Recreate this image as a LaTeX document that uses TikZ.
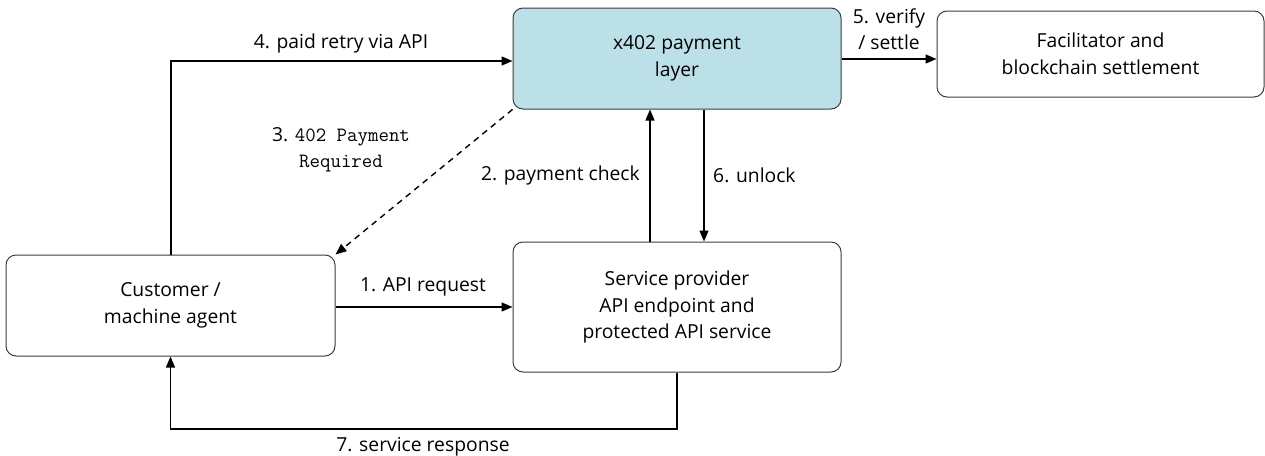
\documentclass[tikz,border=0pt]{standalone}
\usepackage{fontspec}
\setmainfont{Open Sans}
\usetikzlibrary{arrows.meta}
\definecolor{layerblue}{RGB}{188,224,232}
\definecolor{edgegrey}{RGB}{60,60,60}
\newcommand\lblfont{\fontsize{19.3}{26.5}\selectfont}
\newcommand\monofont{\fontsize{20.3}{26.5}\selectfont\ttfamily}
\begin{document}
\begin{tikzpicture}[x=1pt,y=-1pt,
  box/.style={draw=edgegrey, line width=1pt, rounded corners=10pt, align=center, inner sep=0pt, font=\lblfont},
  conn/.style={line width=1.4pt, -{Triangle[length=11pt,width=9pt]}},
  lab/.style={align=center, font=\lblfont, inner sep=0pt}]
\useasboundingbox (0,0) rectangle (1265,455);
\node[box, minimum width=329pt, minimum height=101pt] (cust) at (170.5,305.5) {Customer /\\machine agent};
\node[box, minimum width=328pt, minimum height=130pt] (serv) at (677,307) {Service provider\\API endpoint and\\protected API service};
\node[box, fill=layerblue, minimum width=328pt, minimum height=101pt] (x402) at (677,58.5) {x402 payment\\layer};
\node[box, minimum width=327pt, minimum height=86pt] (fac) at (1100.5,54) {Facilitator and\\blockchain settlement};
\coordinate (c4) at (171,61);
\coordinate (c7) at (677,429);
% 1
\draw[conn] (serv.west -| cust.east) -- (serv.west);
\node[lab] (l1) at (423,287) {1. API request};
% 2
\draw[conn] (serv.north -| 650,0) -- (x402.south -| 650,0);
\node[lab, anchor=east] (l2) at (640,175) {2. payment check};
% 6
\draw[conn] (x402.south -| 704,0) -- (serv.north -| 704,0);
\node[lab, anchor=west] (l6) at (713,175) {6. unlock};
% 3
\draw[conn, dash pattern=on 6pt off 5pt] (x402.south west) -- (cust.north east);
\node[lab] (l3) at (341,150) {3. {\monofont 402 Payment}\\{\monofont Required}};
% 4
\draw[conn] (cust.north -| c4) -- (c4) -- (c4 -| x402.west);
\node[lab] (l4) at (341,43) {4. paid retry via API};
% 5
\coordinate (s5) at (0,59);
\draw[conn] (x402.east |- s5) -- (fac.west |- s5);
\node[lab] (l5) at (889,29) {5. verify\\/ settle};
% 7
\draw[conn] (serv.south) -- (c7) -- (c7 -| cust.south) -- (cust.south);
\node[lab] (l7) at (423,447) {7. service response};
\end{tikzpicture}
\end{document}
